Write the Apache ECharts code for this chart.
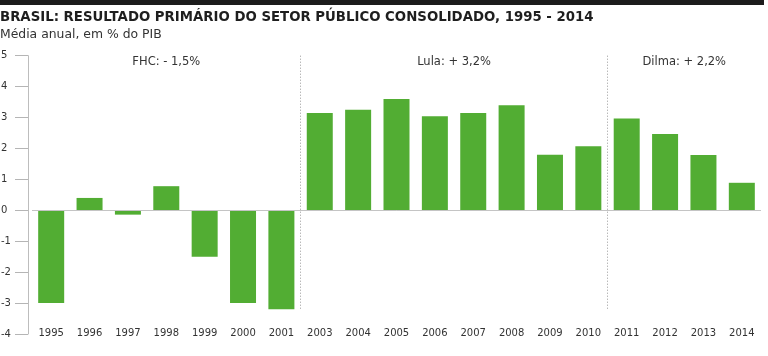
<!DOCTYPE html>
<html>
<head>
<meta charset="utf-8">
<script src="https://cdn.jsdelivr.net/npm/echarts@6/dist/echarts.min.js"></script>
<style>html,body{margin:0;padding:0;background:#fff}#c{width:768px;height:356px}</style>
</head>
<body>
<div id="c"></div>
<script>
var titleText = 'BRASIL: RESULTADO PRIMÁRIO DO SETOR PÚBLICO CONSOLIDADO, 1995 - 2014';
var subtitleText = 'Média anual, em % do PIB';
var years = ['1995','1996','1997','1998','1999','2000','2001','2003','2004','2005','2006','2007','2008','2009','2010','2011','2012','2013','2014'];
var values = [-3.0, 0.4, -0.14, 0.78, -1.5, -3.0, -3.2, 3.15, 3.25, 3.6, 3.04, 3.15, 3.4, 1.8, 2.07, 2.97, 2.47, 1.79, 0.89];
var periodLabels = ['FHC: - 1,5%', 'Lula: + 3,2%', 'Dilma: + 2,2%'];
var periodStart = [0, 7, 15];
var periodEnd = [7, 15, 19];
var yMin = -4, yMax = 5;

var font = 'DejaVu Sans';
var chart = echarts.init(document.getElementById('c'));
var lowest = Math.min.apply(null, values);
var dividers = periodStart.slice(1).map(function (s) {
  return [{coord: [s, yMax]}, {coord: [s, lowest]}];
});
var areas = periodLabels.map(function (t, i) {
  return [{name: t, coord: [periodStart[i], yMax]}, {coord: [periodEnd[i], yMin]}];
});
chart.setOption({
  animation: false,
  title: [
    {text: titleText, left: -5, top: 6, textStyle: {fontFamily: font, fontWeight: 'bold', fontSize: 13.3, color: '#1e1e1e'}},
    {text: subtitleText, left: -5, top: 23.5, textStyle: {fontFamily: font, fontWeight: 'normal', fontSize: 12.4, color: '#333'}}
  ],
  graphic: [{type: 'rect', left: 0, top: 0, shape: {width: 764, height: 5}, style: {fill: '#1c1c1c'}}],
  grid: {left: 32, right: 7, top: 55.7, bottom: 22, containLabel: false, outerBoundsMode: 'none'},
  xAxis: [
    {type: 'category', data: years, position: 'bottom', boundaryGap: true,
     axisLine: {show: false, onZero: false}, axisTick: {show: false},
     axisLabel: {margin: -6, fontFamily: font, fontSize: 10, color: '#333'}},
    {type: 'value', min: 0, max: years.length, show: false, axisLine: {onZero: false}}
  ],
  yAxis: {type: 'value', min: yMin, max: yMax, interval: 1, offset: 4, position: 'left',
    axisLine: {show: true, onZero: false, lineStyle: {color: '#bdbdbd'}},
    axisTick: {show: true, inside: false, length: 13, lineStyle: {color: '#b5b5b5', width: 1}},
    splitLine: {show: false},
    axisLabel: {margin: 27, align: 'left', fontFamily: font, fontSize: 10, color: '#333'}},
  series: [
    {type: 'bar', data: values, barWidth: 26, itemStyle: {color: '#52ad33'},
     markLine: {silent: true, symbol: 'none', label: {show: false},
       lineStyle: {color: '#c4c4c4', type: 'solid', width: 1}, data: [{yAxis: 0}]}},
    {type: 'line', xAxisIndex: 1, data: [],
     markLine: {silent: true, symbol: 'none', label: {show: false},
       lineStyle: {color: '#999', type: [1, 2], width: 1}, data: dividers},
     markArea: {silent: true, itemStyle: {color: 'rgba(0,0,0,0)'},
       label: {show: true, position: 'insideTop', distance: 0, fontFamily: font, fontSize: 11.5, color: '#333'},
       data: areas}}
  ]
});
</script>
</body>
</html>
